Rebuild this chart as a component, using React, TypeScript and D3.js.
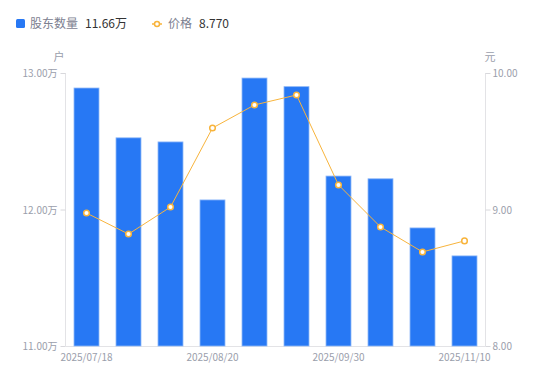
import React from "react";
import * as d3 from "d3";

const categories = ["2025/07/18", "2025/07/31", "2025/08/10", "2025/08/20", "2025/08/31", "2025/09/10", "2025/09/30", "2025/10/20", "2025/10/31", "2025/11/10"];
const holders = [12.89, 12.525, 12.495, 12.07, 12.963, 12.9, 12.245, 12.225, 11.865, 11.66];
const prices = [8.974, 8.82, 9.018, 9.597, 9.766, 9.839, 9.18, 8.872, 8.689, 8.77];
const leftTicks = [11, 12, 13];
const rightTicks = [8, 9, 10];
const shownLabels = ["2025/07/18", "2025/08/20", "2025/09/30", "2025/11/10"];

const W = 550, H = 381;
const m = { l: 65.5, r: 485.5, t: 73, b: 346 };
const font = "'Noto Sans CJK SC', 'Noto Sans', sans-serif";
const BLUE = "#2778f4";
const ORANGE = "#f8b43c";
const GRAY = "#9a9eab";

export default function App() {
  const x = d3.scaleBand<string>().domain(categories).range([m.l, m.r]).paddingInner(0.4).paddingOuter(0.2);
  const yL = d3.scaleLinear().domain([11, 13]).range([m.b, m.t]);
  const yR = d3.scaleLinear().domain([8, 10]).range([m.b, m.t]);
  const step = (m.r - m.l) / categories.length;
  const cx = (c: string) => m.l + step * (categories.indexOf(c) + 0.5);
  const bw = 25;
  const line = d3.line<number>().x((_, i) => cx(categories[i])).y((d) => yR(d));

  return (
    <svg width={W} height={H} style={{ position: "absolute", left: 0, top: 0, fontFamily: font }}>
      <rect width={W} height={H} fill="#fff" />
      {/* legend */}
      <rect x={16} y={19} width={9} height={9} rx={1.5} fill={BLUE} />
      <text x={30} y={28} fontSize={12} fill="#7c8090">股东数量</text>
      <text x={85} y={28} fontSize={12} fill="#333">11.66万</text>
      <line x1={152} x2={162} y1={24} y2={24} stroke={ORANGE} strokeWidth={1.5} />
      <circle cx={157} cy={24} r={2.5} fill="#fff" stroke={ORANGE} strokeWidth={1.5} />
      <text x={168} y={28} fontSize={12} fill="#7c8090">价格</text>
      <text x={199} y={28} fontSize={12} fill="#333">8.770</text>

      <text x={59} y={61} fontSize={11} fill={GRAY} textAnchor="middle">户</text>
      <text x={490} y={61} fontSize={11} fill={GRAY} textAnchor="middle">元</text>

      {/* axes */}
      <line x1={m.l} x2={m.l} y1={m.t} y2={m.b} stroke="#e3e3e6" />
      <line x1={m.r} x2={m.r} y1={m.t} y2={m.b} stroke="#e3e3e6" />
      <line x1={m.l} x2={m.r} y1={m.b + 0.5} y2={m.b + 0.5} stroke="#e3e3e6" />
      {leftTicks.map((t) => (
        <g key={"l" + t}>
          <line x1={m.l - 5} x2={m.l} y1={yL(t) + 0.5} y2={yL(t) + 0.5} stroke="#d8d8dc" />
          <text x={m.l - 8} y={yL(t) + 4} fontSize={10} fill={GRAY} textAnchor="end">{t.toFixed(2)}万</text>
        </g>
      ))}
      {rightTicks.map((t) => (
        <g key={"r" + t}>
          <line x1={m.r} x2={m.r + 5} y1={yR(t) + 0.5} y2={yR(t) + 0.5} stroke="#d8d8dc" />
          <text x={m.r + 7} y={yR(t) + 4} fontSize={10} fill={GRAY} textAnchor="start">{t.toFixed(2)}</text>
        </g>
      ))}
      {shownLabels.map((c) => (
        <text key={c} x={cx(c)} y={361} fontSize={10} fill={GRAY} textAnchor="middle">{c}</text>
      ))}

      {/* bars */}
      {holders.map((v, i) => (
        <rect key={i} x={cx(categories[i]) - bw / 2} y={yL(v)} width={bw} height={m.b - yL(v)}
          fill={BLUE} stroke="#8fb8f8" strokeWidth={0.8} />
      ))}

      {/* line */}
      <path d={line(prices) || ""} fill="none" stroke={ORANGE} strokeWidth={1} />
      {prices.map((v, i) => (
        <circle key={i} cx={cx(categories[i])} cy={yR(v)} r={2.8} fill="#fff" stroke={ORANGE} strokeWidth={1.5} />
      ))}
    </svg>
  );
}
